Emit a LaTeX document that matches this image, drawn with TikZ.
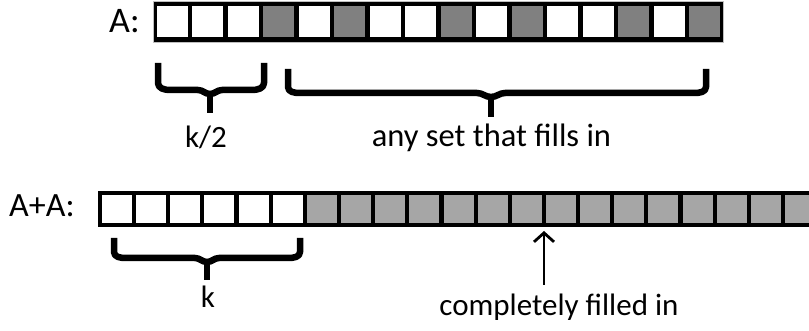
\documentclass[tikz,border=0pt]{standalone}
\usepackage{fontspec}
\setmainfont{Carlito}
\usetikzlibrary{arrows.meta}
\definecolor{topgray}{RGB}{128,128,128}
\definecolor{botgray}{RGB}{166,166,166}
\tikzset{
  bracepath/.style={line width=6.5pt, line join=round},
  biglabel/.style={inner sep=0pt, font=\fontsize{36}{40}\selectfont},
  midlabel/.style={inner sep=0pt, font=\fontsize{34}{38}\selectfont},
  smalllabel/.style={inner sep=0pt, font=\fontsize{31}{35}\selectfont},
  pointer/.style={line width=2.8pt, -{Straight Barb[length=9pt,width=20pt]}},
}
\begin{document}
\begin{tikzpicture}[x=1pt,y=-1pt]
\useasboundingbox (0,0) rectangle (809,331);
% ---- row A ----
\fill[black] (153,1.5) rectangle (723,42);
\draw[gray!50, line width=0.8pt] (153,1.5) rectangle (723,42);
\foreach \i/\c in {0/white,1/white,2/white,3/topgray,4/white,5/topgray,6/white,7/white,
                   8/topgray,9/white,10/topgray,11/white,12/white,13/topgray,14/white,15/topgray}{
  \fill[\c] ({156.5+35.5*\i},6) rectangle ++(31,31);
}
\node[biglabel, anchor=base west] (labA) at (109,33) {A:};
% ---- row A+A ----
\fill[black] (98,191) rectangle (809,227);
\foreach \i in {0,...,5}{
  \fill[white] ({102+34.15*\i},195) rectangle ++(30,28);
}
\foreach \i in {6,...,19}{
  \fill[botgray] ({102+34.15*\i},195) rectangle ++(30,28);
}
\fill[botgray] ({102+34.15*20},195) rectangle (809,223);
\node[midlabel, anchor=base west] (labAA) at (9,217) {A+A:};
% ---- braces ----
\draw[bracepath] (158,63) -- (158,83) to[out=-90,in=180] (170,90) -- (198,90)
   to[out=0,in=180] (210,94) to[out=0,in=180] (222,90) -- (252,90)
   to[out=0,in=-90] (264,83) -- (264,63);
\draw[bracepath, line cap=butt] (210,92) -- (210,113);
\draw[bracepath] (288,69) -- (288,87) to[out=-90,in=180] (300,93) -- (477,93)
   to[out=0,in=180] (491,97) to[out=0,in=180] (505,93) -- (694,93)
   to[out=0,in=-90] (706,87) -- (706,69);
\draw[bracepath] (491,95) -- (491,117);
\draw[bracepath] (114,238) -- (114,252) to[out=-90,in=180] (126,258) -- (195,258)
   to[out=0,in=180] (207,262) to[out=0,in=180] (219,258) -- (288,258)
   to[out=0,in=-90] (300,252) -- (300,238);
\draw[bracepath] (207,260) -- (207,280);
% ---- labels ----
\node[smalllabel, anchor=base] (half) at (206,148) {k/2};
\node[smalllabel, anchor=base, font=\fontsize{32.5}{36}\selectfont] (anyset) at (491.5,147) {any set that fills in};
\node[smalllabel, anchor=base] (k) at (208,308) {k};
\node[smalllabel, anchor=base] (filled) at (559,316) {completely filled in};
% ---- arrow ----
\coordinate (tail) at (544,285);
\coordinate (tip) at (544,231);
\draw[pointer] (tail) -- (tip);
\end{tikzpicture}
\end{document}
